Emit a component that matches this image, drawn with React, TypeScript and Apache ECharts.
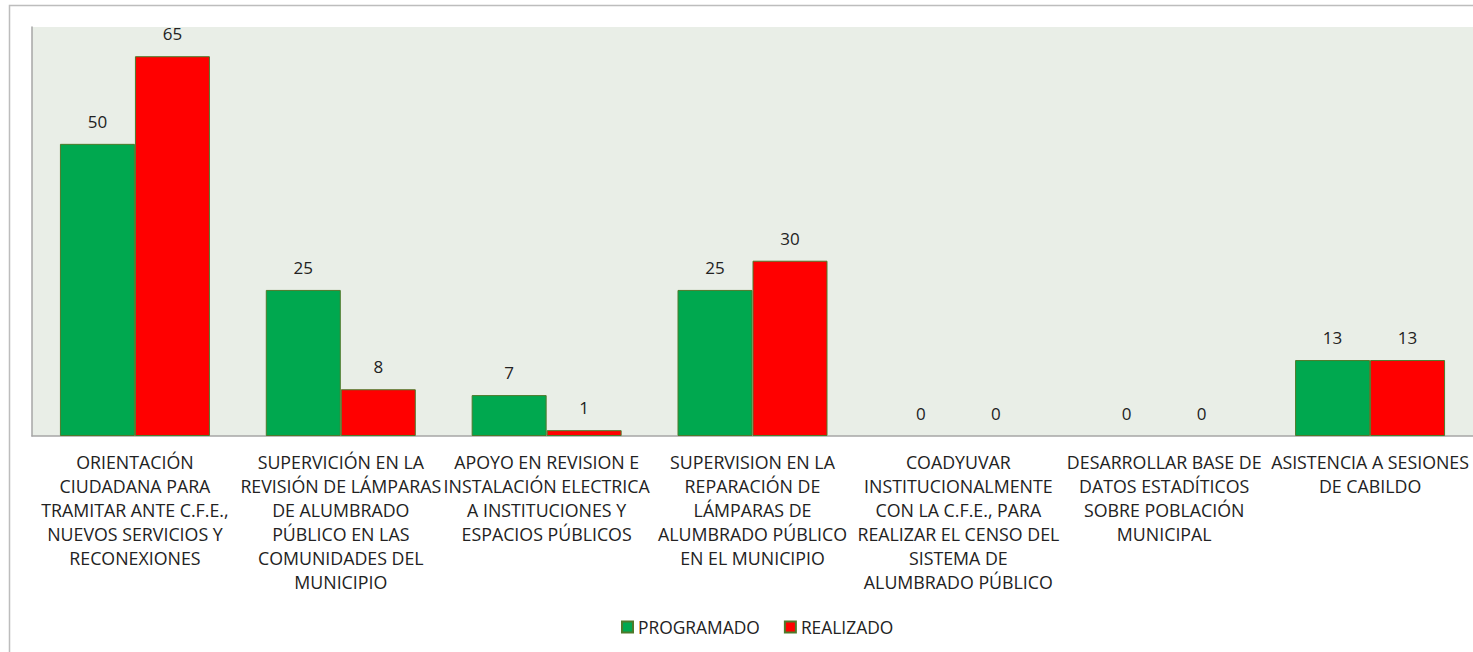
import React, { useEffect, useRef } from "react";
import * as echarts from "echarts";

const categories = [
  "ORIENTACIÓN\nCIUDADANA PARA\nTRAMITAR ANTE C.F.E.,\nNUEVOS SERVICIOS Y\nRECONEXIONES",
  "SUPERVICIÓN EN LA\nREVISIÓN DE LÁMPARAS\nDE ALUMBRADO\nPÚBLICO EN LAS\nCOMUNIDADES DEL\nMUNICIPIO",
  "APOYO EN REVISION E\nINSTALACIÓN ELECTRICA\nA INSTITUCIONES Y\nESPACIOS PÚBLICOS",
  "SUPERVISION EN LA\nREPARACIÓN DE\nLÁMPARAS DE\nALUMBRADO PÚBLICO\nEN EL MUNICIPIO",
  "COADYUVAR\nINSTITUCIONALMENTE\nCON LA C.F.E., PARA\nREALIZAR EL CENSO DEL\nSISTEMA DE\nALUMBRADO PÚBLICO",
  "DESARROLLAR BASE DE\nDATOS ESTADÍTICOS\nSOBRE POBLACIÓN\nMUNICIPAL",
  "ASISTENCIA A SESIONES\nDE CABILDO",
];
const programado = [50, 25, 7, 25, 0, 0, 13];
const realizado = [65, 8, 1, 30, 0, 0, 13];
const seriesNames = ["PROGRAMADO", "REALIZADO"];

const FONT = "'Open Sans', sans-serif";

const toItems = (arr: number[]) =>
  arr.map((v) => (v === 0 ? { value: v, itemStyle: { borderWidth: 0 } } : v));

export default function App() {
  const ref = useRef<HTMLDivElement>(null);
  useEffect(() => {
    document.body.style.margin = "0";
    const chart = echarts.init(ref.current!, null, { renderer: "svg" });
    const label = {
      show: true,
      position: "top",
      distance: 14,
      color: "#222",
      fontSize: 17,
      fontFamily: FONT,
    };
    chart.setOption({
      animation: false,
      graphic: [
        {
          type: "rect",
          shape: { x: 9.5, y: 5.5, width: 1500, height: 700 },
          style: { fill: "none", stroke: "#BDBDBD", lineWidth: 1.5 },
          silent: true,
          z: -10,
        },
      ],
      grid: {
        left: 32,
        top: 27,
        right: -1,
        bottom: 216,
        show: true,
        backgroundColor: "#E9EEE7",
        borderWidth: 0,
      },
      legend: {
        left: 616,
        top: 612,
        itemWidth: 11,
        itemHeight: 11,
        itemGap: 24,
        icon: "rect",
        textStyle: { fontSize: 17.4, fontFamily: FONT, color: "#222", lineHeight: 20 },
        data: seriesNames,
      },
      xAxis: {
        type: "category",
        data: categories,
        axisLine: { lineStyle: { color: "#A6A6A6", width: 1.5 } },
        axisTick: { show: false },
        axisLabel: {
          interval: 0,
          margin: 14,
          fontSize: 17.8,
          lineHeight: 24,
          fontFamily: FONT,
          color: "#222",
        },
      },
      yAxis: {
        type: "value",
        min: 0,
        max: 70,
        axisLine: { show: true, lineStyle: { color: "#A6A6A6", width: 1.5 } },
        axisTick: { show: false },
        axisLabel: { show: false },
        splitLine: { show: false },
      },
      series: [
        {
          name: seriesNames[0],
          type: "bar",
          data: toItems(programado),
          barWidth: 75,
          barGap: "0%",
          itemStyle: { color: "#00A84F", borderColor: "#4E7A2B", borderWidth: 1 },
          label,
        },
        {
          name: seriesNames[1],
          type: "bar",
          data: toItems(realizado),
          barWidth: 75,
          barGap: "0%",
          itemStyle: { color: "#FF0000", borderColor: "#4E7A2B", borderWidth: 1 },
          label,
        },
      ],
    });
    return () => chart.dispose();
  }, []);
  return <div ref={ref} style={{ width: 1473, height: 652 }} />;
}
